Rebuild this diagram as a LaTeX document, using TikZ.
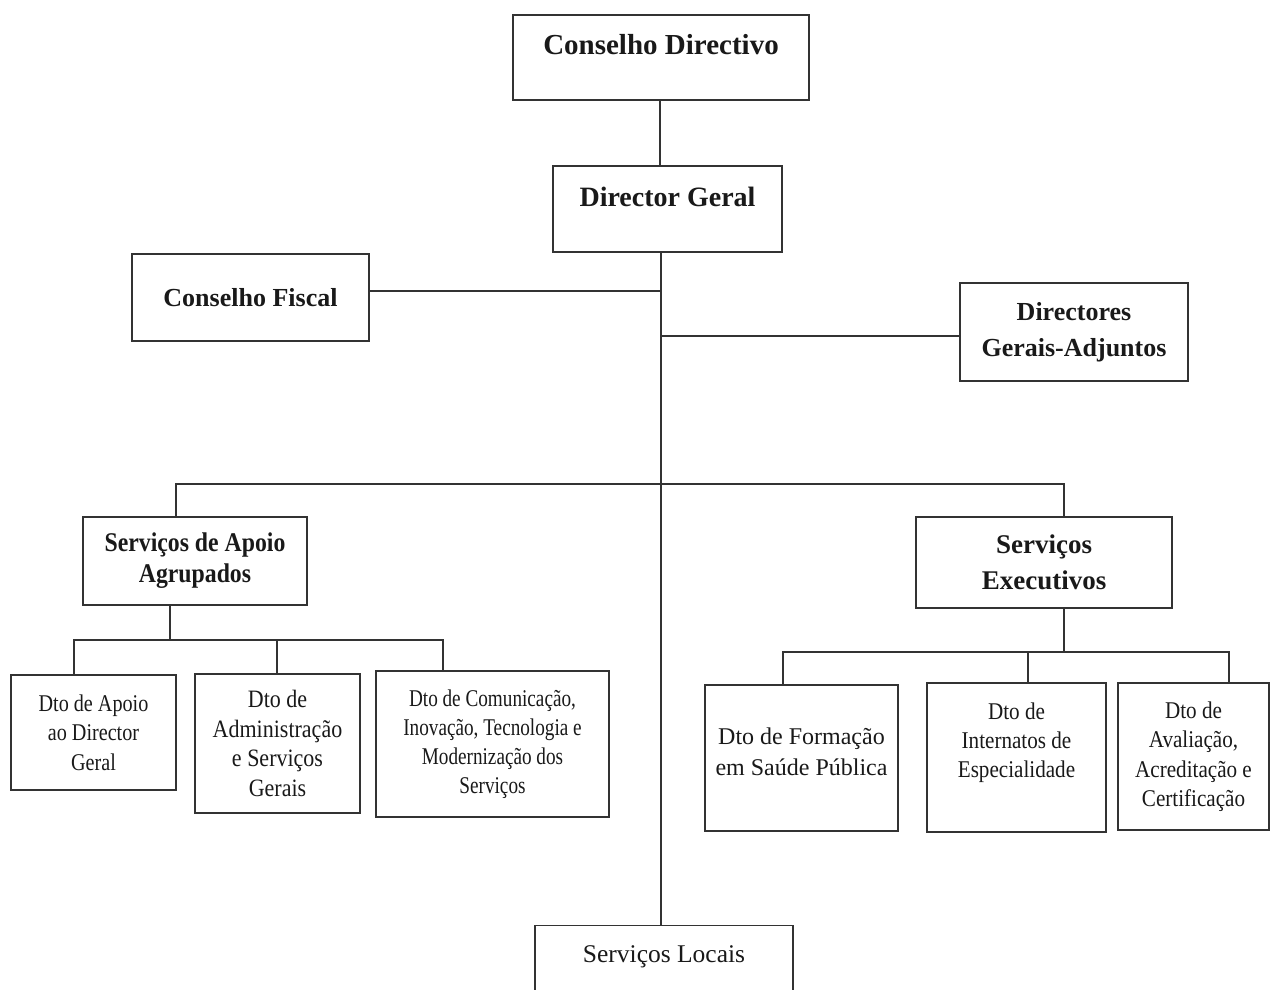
\documentclass[tikz,border=0pt]{standalone}
\usepackage{fontspec}
\setmainfont{Liberation Serif}
\newfontfamily\fsA[FakeStretch=0.80]{Liberation Serif}
\newfontfamily\fsB[FakeStretch=0.84]{Liberation Serif}
\newfontfamily\fsC[FakeStretch=0.88]{Liberation Serif}
\newcommand\fz[2]{\fontsize{#1}{#2}\selectfont}
\begin{document}
\begin{tikzpicture}[x=1pt,y=-1pt,
  box/.style={draw=black!80, line width=1.3pt, rectangle, inner sep=0pt, align=center, text=black!90},
  link/.style={draw=black!80, line width=1.4pt},
]
\useasboundingbox (0,0) rectangle (1271,989);
\clip (0,0) rectangle (1271,989);

% top level
\node[box, font=\bfseries\fz{29}{34}, minimum width=296pt, text height=39.6pt, text depth=45.4pt] (cd) at (661,57.5) {Conselho Directivo};
\node[box, font=\bfseries\fz{28}{33}, minimum width=229pt, text height=40.3pt, text depth=45.7pt] (dg) at (667.5,209) {Director Geral};
\node[box, font=\bfseries\fz{26}{31}, minimum width=237pt, minimum height=87pt] (cf) at (250.5,297.5) {Conselho Fiscal};
\node[box, font=\bfseries\fz{26}{36}, minimum width=228pt, minimum height=98pt] (dga) at (1074,332) {Directores\\Gerais-Adjuntos};

% second level
\node[box, font=\fsC\bfseries\fz{27}{31}, minimum width=224pt, minimum height=88pt] (saa) at (195,561) {Serviços de Apoio\\Agrupados};
\node[box, font=\bfseries\fz{27}{36}, minimum width=256pt, minimum height=91pt] (se) at (1044,562.5) {Serviços\\Executivos};

% departments
\node[box, font=\fsB\fz{24}{29.5}, minimum width=165pt, minimum height=115pt] (b1) at (93.5,732.5) {Dto de Apoio\\ao Director\\Geral};
\node[box, font=\fsC\fz{25}{29.5}, minimum width=165pt, minimum height=139pt] (b2) at (277.5,743.5) {Dto de\\Administração\\e Serviços\\Gerais};
\node[box, font=\fsA\fz{24}{29}, minimum width=233pt, minimum height=146pt] (b3) at (492.5,744) {Dto de Comunicação,\\Inovação, Tecnologia e\\Modernização dos\\Serviços};
\node[box, font=\fz{24}{31}, minimum width=193pt, minimum height=146pt] (b4) at (801.5,758) {Dto de Formação\\em Saúde Pública\\[-19pt]\mbox{}};
\node[box, font=\fsC\fz{24}{29}, minimum width=179pt, minimum height=149pt] (b5) at (1016.5,757.5) {Dto de\\Internatos de\\Especialidade\\[6pt]\mbox{}};
\node[box, font=\fsC\fz{24}{29.5}, minimum width=151pt, minimum height=147pt] (b6) at (1193.5,756.5) {Dto de\\Avaliação,\\Acreditação e\\Certificação};

\node[box, font=\fz{25.5}{30}, minimum width=258pt, anchor=north, text height=36.5pt, text depth=70pt] (sl) at (664,925) {Serviços Locais};

% helper coordinates
\coordinate (sp) at (661,0);
\coordinate (x660) at (660,0);
\coordinate (bus1) at (0,484);
\coordinate (bus2) at (0,640);
\coordinate (bus3) at (0,652);
\coordinate (cfe) at ([yshift=6.5pt]cf.east);
\coordinate (dgaw) at ([yshift=-4pt]dga.west);
\coordinate (saaT) at ([xshift=-19pt]saa.north);
\coordinate (seT) at ([xshift=20pt]se.north);
\coordinate (saaB) at ([xshift=-25pt]saa.south);
\coordinate (seB) at ([xshift=20pt]se.south);
\coordinate (b1T) at ([xshift=-19.5pt]b1.north);
\coordinate (b2T) at ([xshift=-0.5pt]b2.north);
\coordinate (b3T) at ([xshift=-49.5pt]b3.north);
\coordinate (b4T) at ([xshift=-18.5pt]b4.north);
\coordinate (b5T) at ([xshift=11.5pt]b5.north);
\coordinate (b6T) at ([xshift=35.5pt]b6.north);

% connectors
\draw[link] (x660 |- cd.south) -- (x660 |- dg.north);
\draw[link] (sp |- dg.south) -- (sp |- sl.north);
\draw[link] (cfe) -- (cfe -| sp);
\draw[link] (dgaw -| sp) -- (dgaw);
\draw[link] (saaT) -- (saaT |- bus1) -- (seT |- bus1) -- (seT);
\draw[link] (saaB) -- (saaB |- bus2);
\draw[link] (b1T) -- (b1T |- bus2) -- (b3T |- bus2) -- (b3T);
\draw[link] (b2T) -- (b2T |- bus2);
\draw[link] (seB) -- (seB |- bus3);
\draw[link] (b4T) -- (b4T |- bus3) -- (b6T |- bus3) -- (b6T);
\draw[link] (b5T) -- (b5T |- bus3);
\end{tikzpicture}
\end{document}
